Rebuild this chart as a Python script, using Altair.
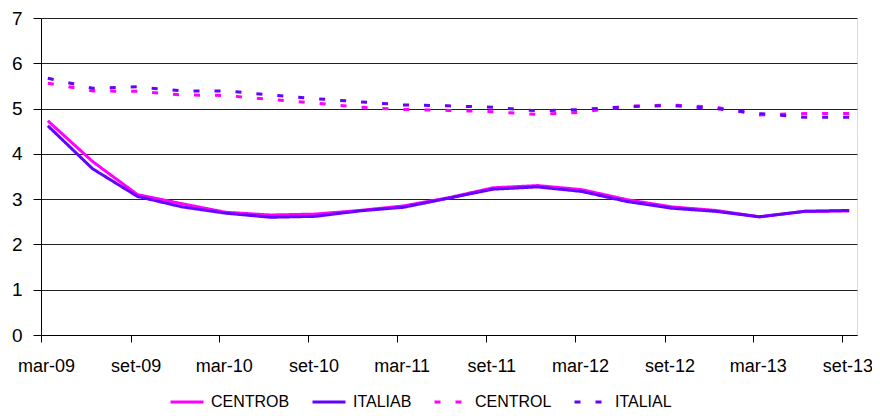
import altair as alt
import pandas as pd

dates = ["2009-03-15", "2009-06-15", "2009-09-15", "2009-12-15",
         "2010-03-15", "2010-06-15", "2010-09-15", "2010-12-15",
         "2011-03-15", "2011-06-15", "2011-09-15", "2011-12-15",
         "2012-03-15", "2012-06-15", "2012-09-15", "2012-12-15",
         "2013-03-15", "2013-06-15", "2013-09-15"]

CENTROB = [4.73, 3.83, 3.10, 2.90, 2.71, 2.65, 2.67, 2.75, 2.85, 3.03,
           3.25, 3.30, 3.21, 2.99, 2.83, 2.75, 2.61, 2.73, 2.74]
ITALIAB = [4.62, 3.67, 3.06, 2.83, 2.69, 2.60, 2.62, 2.74, 2.82, 3.02,
           3.22, 3.27, 3.17, 2.95, 2.80, 2.73, 2.61, 2.73, 2.75]
CENTROL = [5.56, 5.39, 5.38, 5.30, 5.29, 5.20, 5.12, 5.03, 4.98, 4.96,
           4.93, 4.87, 4.92, 5.05, 5.08, 5.03, 4.86, 4.89, 4.89]
ITALIAL = [5.67, 5.45, 5.48, 5.39, 5.39, 5.30, 5.22, 5.15, 5.08, 5.06,
           5.03, 4.95, 4.98, 5.04, 5.07, 5.00, 4.89, 4.81, 4.81]

series_names = ["CENTROB", "ITALIAB", "CENTROL", "ITALIAL"]
series_values = [CENTROB, ITALIAB, CENTROL, ITALIAL]
series_colors = ["#FF00FF", "#6600FF", "#FF00FF", "#6600FF"]
series_dash = [[1, 0], [1, 0], [6, 15], [6, 15]]

tick_years_months = [(2009, 3), (2009, 9), (2010, 3), (2010, 9), (2011, 3),
                     (2011, 9), (2012, 3), (2012, 9), (2013, 3), (2013, 9)]

rows = []
for name, vals in zip(series_names, series_values):
    for d, v in zip(dates, vals):
        rows.append({"date": d, "value": v, "serie": name})
df = pd.DataFrame(rows)

FONT = "Liberation Sans"


def make_legend():
    return alt.Legend(
        title=None,
        orient="none",
        direction="horizontal",
        legendX=128,
        legendY=366,
        symbolType="stroke",
        symbolSize=1089,
        symbolStrokeWidth=3,
        labelFontSize=16,
        labelFont=FONT,
        labelColor="black",
        labelOffset=6,
        columnPadding=16,
    )


x = alt.X(
    "date:T",
    scale=alt.Scale(
        type="utc",
        domain=[alt.DateTime(year=2009, month=3, date=1, utc=True),
                alt.DateTime(year=2013, month=10, date=1, utc=True)],
    ),
    axis=alt.Axis(
        title=None,
        values=[alt.DateTime(year=y, month=m, date=1, utc=True) for y, m in tick_years_months],
        labelExpr="(utcmonth(datum.value) == 2 ? 'mar-' : 'set-') + utcFormat(datum.value, '%y')",
        grid=False,
        tickSize=7,
        tickColor="black",
        domainColor="black",
        labelOffset=5,
        labelPadding=15,
        labelFontSize=18,
        labelFont=FONT,
        labelColor="black",
        labelFlush=False,
        labelOverlap=False,
    ),
)

y = alt.Y(
    "value:Q",
    scale=alt.Scale(domain=[0, 7], nice=False, zero=True),
    axis=alt.Axis(
        title=None,
        values=[0, 1, 2, 3, 4, 5, 6, 7],
        grid=True,
        gridColor="#222222",
        gridWidth=1,
        tickSize=8,
        tickColor="black",
        domainColor="black",
        labelPadding=11,
        labelFontSize=19,
        labelFont=FONT,
        labelColor="black",
    ),
)

chart = (
    alt.Chart(df)
    .mark_line(strokeWidth=3)
    .encode(
        x=x,
        y=y,
        color=alt.Color(
            "serie:N",
            scale=alt.Scale(domain=series_names, range=series_colors),
            legend=make_legend(),
        ),
        strokeDash=alt.StrokeDash(
            "serie:N",
            scale=alt.Scale(domain=series_names, range=series_dash),
            legend=make_legend(),
        ),
        order=alt.Order("date:T"),
    )
    .properties(
        width=816,
        height=317,
        autosize=alt.AutoSizeParams(type="none"),
        padding={"left": 33, "top": 10, "right": 15, "bottom": 73},
    )
    .configure_view(stroke="black", strokeWidth=1)
    .configure(background="white")
)

chart.save("out.html", embed_options={"renderer": "svg", "actions": False})
